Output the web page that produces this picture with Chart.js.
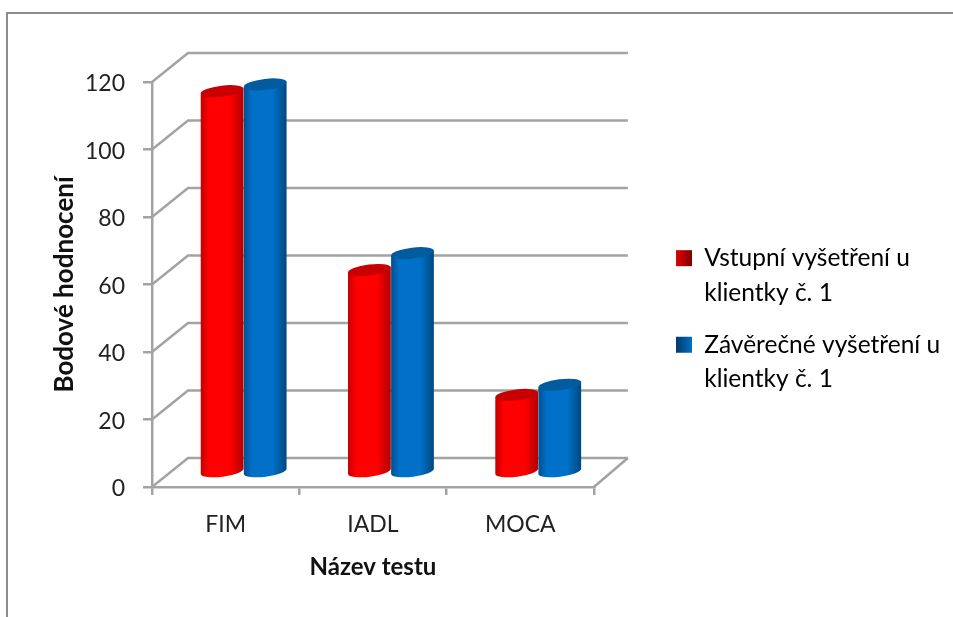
<!DOCTYPE html>
<html>
<head>
<meta charset="utf-8">
<script src="https://cdn.jsdelivr.net/npm/chart.js@4/dist/chart.umd.min.js"></script>
<style>
  html, body { margin: 0; background: #fff; overflow: hidden; }
  #frame { position: absolute; left: 6px; top: 12px; right: 0; bottom: 0; border-left: 2px solid #8c8c8c; border-top: 2px solid #8c8c8c; }
  #chart { position: absolute; left: 0; top: 0; }
</style>
</head>
<body>
<div id="frame"></div>
<canvas id="chart" width="953" height="617"></canvas>
<script>
const categories = ['FIM', 'IADL', 'MOCA'];
const entryScores = [113, 60, 23];
const finalScores = [115, 65, 26];
const seriesNames = [
  ['Vstupní vyšetření u', 'klientky č. 1'],
  ['Závěrečné vyšetření u', 'klientky č. 1']
];

// depth of the fake 3D box
const depthX = 36, depthY = -29;
const legendLeft = 659;
const gridColor = '#a3a3a3';
const textColor = '#222';
const fontName = 'Lato, "Open Sans", sans-serif';

const ctx = document.getElementById('chart').getContext('2d');

function barFill(x0, x1, edgeL, mid, edgeR) {
  const g = ctx.createLinearGradient(x0, 0, x1, 0);
  g.addColorStop(0, edgeL);
  g.addColorStop(0.2, mid);
  g.addColorStop(0.68, mid);
  g.addColorStop(1, edgeR);
  return g;
}

const colors = [
  { left: '#c40000', mid: '#ff0000', right: '#b00000', top: '#c80000', key: ['#e00000', '#800000'] },
  { left: '#00508e', mid: '#0070c8', right: '#00487e', top: '#005c9e', key: ['#00396b', '#0070c0'] }
];

function legendFill(i) {
  const g = ctx.createLinearGradient(legendLeft + 17, 0, legendLeft + 33, 0);
  g.addColorStop(0, colors[i].key[0]);
  g.addColorStop(1, colors[i].key[1]);
  return g;
}

// back wall and floor, behind the bars
const wallPlugin = {
  id: 'wall',
  beforeDatasetsDraw(chart) {
    const { left, right } = chart.chartArea;
    const yScale = chart.scales.y;
    const c = chart.ctx;
    c.save();
    c.strokeStyle = gridColor;
    c.lineWidth = 2.5;
    yScale.ticks.forEach(t => {
      const y = yScale.getPixelForValue(t.value);
      c.beginPath();
      c.moveTo(left, y);
      c.lineTo(left + depthX, y + depthY);
      c.lineTo(right + depthX - 2, y + depthY);
      c.stroke();
    });
    const y0 = yScale.getPixelForValue(0);
    c.beginPath();
    c.moveTo(right, y0);
    c.lineTo(right + depthX - 2, y0 + depthY);
    c.stroke();
    c.restore();
  }
};

// bars are read from the chart's own elements and drawn as cylinders, left series first
const cylinderPlugin = {
  id: 'cylinder',
  beforeDatasetDraw() { return false; },
  afterDatasetsDraw(chart) {
    const c = chart.ctx;
    const rot = -7 * Math.PI / 180;
    chart.data.datasets.forEach((ds, i) => {
      const col = colors[i];
      chart.getDatasetMeta(i).data.forEach(bar => {
        const cx = bar.x + depthX / 2;
        const top = bar.y + depthY / 2;
        const base = bar.base + depthY / 2;
        const rx = bar.width / 2, ry = 5.5;
        const ex = rx * Math.cos(rot), ey = rx * Math.sin(rot);
        c.save();
        c.fillStyle = barFill(cx - rx, cx + rx, col.left, col.mid, col.right);
        c.beginPath();
        c.moveTo(cx - ex, top - ey);
        c.lineTo(cx - ex, base - ey);
        c.ellipse(cx, base, rx, ry, rot, Math.PI, 0, true);
        c.lineTo(cx + ex, top + ey);
        c.closePath();
        c.fill();
        c.fillStyle = col.top;
        c.beginPath();
        c.ellipse(cx, top, rx, ry, rot, 0, Math.PI * 2);
        c.fill();
        c.restore();
      });
    });
  }
};

// legend sits further right than its layout slot
const legendShift = {
  id: 'legendShift',
  afterLayout(chart) {
    const lg = chart.legend;
    const dx = legendLeft - lg.left;
    lg.left += dx;
    lg.right += dx;
    lg.top -= 8;
    lg.bottom -= 8;
  }
};

new Chart(ctx, {
  type: 'bar',
  data: {
    labels: categories,
    datasets: [
      { label: seriesNames[0], data: entryScores, backgroundColor: colors[0].mid },
      { label: seriesNames[1], data: finalScores, backgroundColor: colors[1].mid }
    ]
  },
  options: {
    responsive: false,
    animation: false,
    layout: { padding: { left: 49, top: 82, right: 68, bottom: 35 } },
    datasets: { bar: { barPercentage: 1, categoryPercentage: 0.585 } },
    plugins: {
      tooltip: { enabled: false },
      legend: {
        position: 'right',
        maxWidth: 293,
        labels: {
          color: textColor,
          font: { family: fontName, size: 24.5, lineHeight: 1.42 },
          boxWidth: 16,
          boxHeight: 16,
          padding: 17,
          generateLabels: () => seriesNames.map((name, i) => ({
            text: name,
            fillStyle: legendFill(i),
            strokeStyle: 'transparent',
            lineWidth: 0,
            datasetIndex: i
          }))
        }
      }
    },
    scales: {
      x: {
        afterFit(s) { s.height = 95; },
        grid: { drawOnChartArea: false, color: gridColor, lineWidth: 2.5, tickLength: 8 },
        border: { color: gridColor, width: 2.5 },
        ticks: { color: textColor, padding: 16, font: { family: fontName, size: 23 } },
        title: { display: true, text: 'Název testu', color: '#111', padding: { top: 8, bottom: 0 }, font: { family: fontName, size: 24, weight: 'bold' } }
      },
      y: {
        min: 0,
        max: 120,
        afterFit(s) { s.width = 103; },
        grid: { drawOnChartArea: false, color: gridColor, lineWidth: 2.5, tickLength: 9 },
        border: { color: gridColor, width: 2.5 },
        ticks: { stepSize: 20, color: textColor, padding: 18, labelOffset: 2, font: { family: fontName, size: 23 } },
        title: { display: true, text: 'Bodové hodnocení', color: '#111', padding: 0, font: { family: fontName, size: 26, weight: 'bold' } }
      }
    }
  },
  plugins: [wallPlugin, cylinderPlugin, legendShift]
});
</script>
</body>
</html>
